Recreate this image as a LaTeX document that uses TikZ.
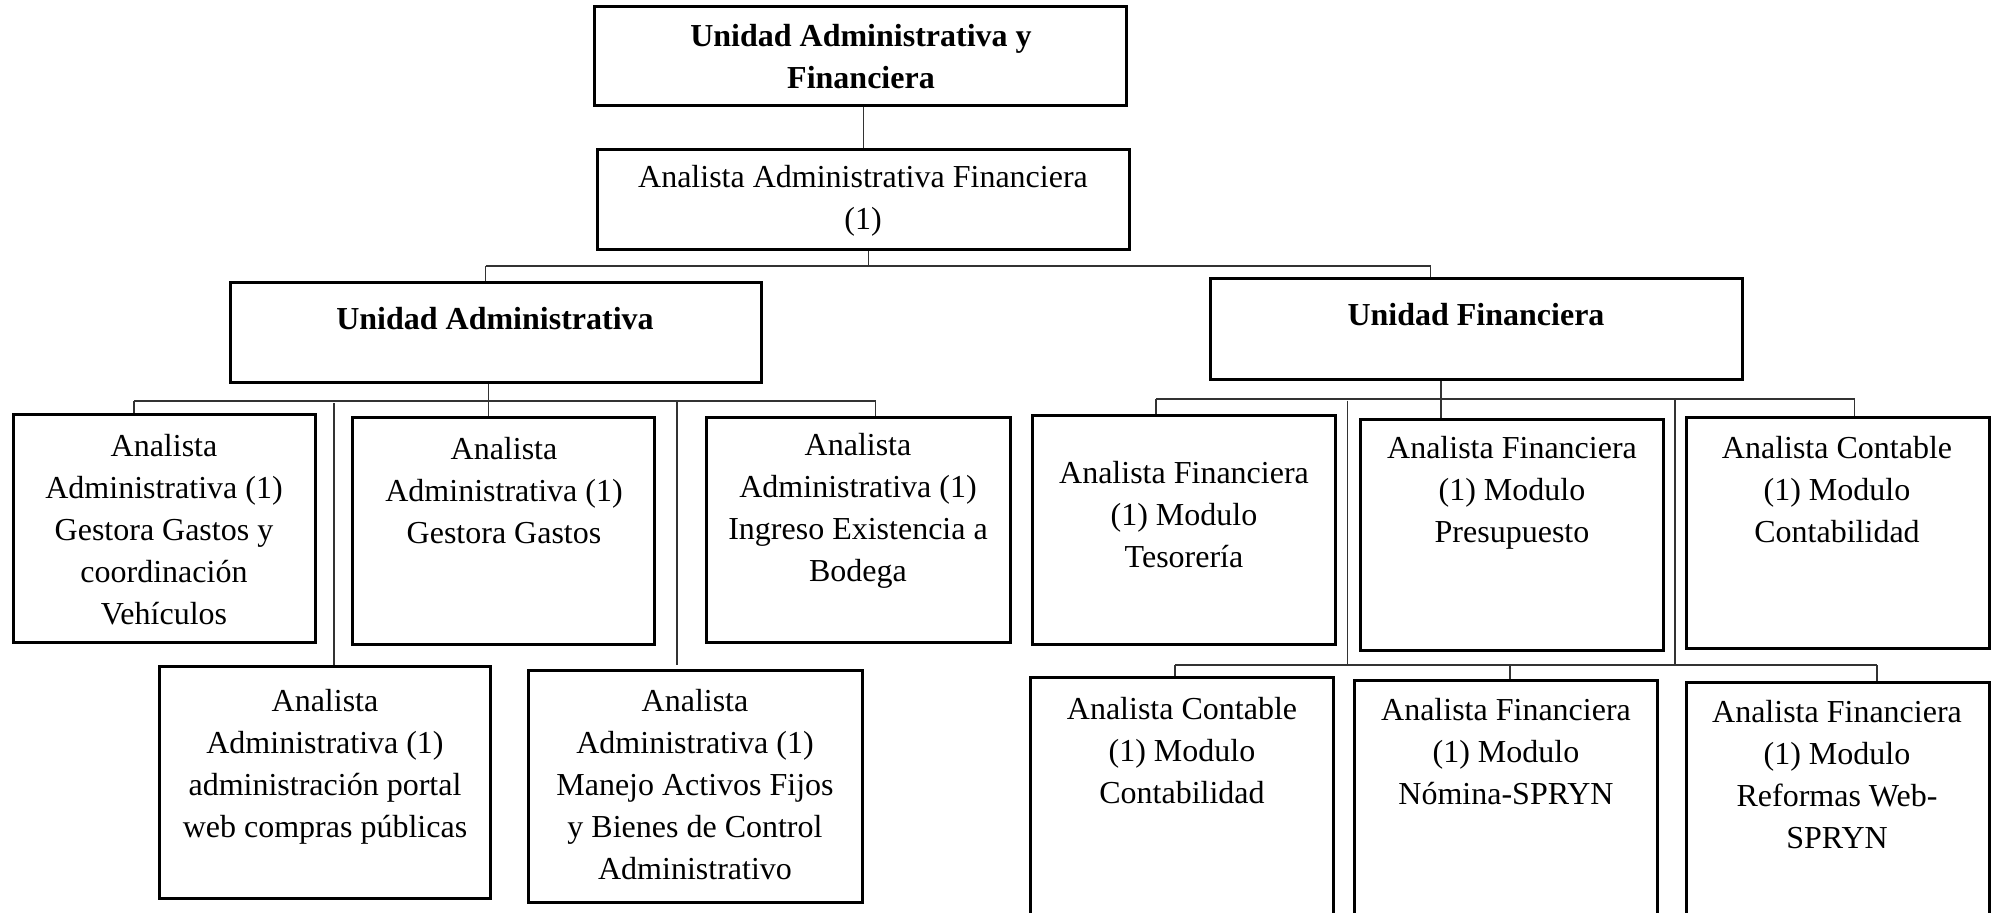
\documentclass[tikz,border=0pt]{standalone}
\usepackage{fontspec}
\setmainfont{Liberation Serif}
\usetikzlibrary{fit}
\begin{document}
\begin{tikzpicture}[x=0.5pt,y=-0.5pt,
  box/.style={draw=black,line width=1.5pt,fill=white,inner sep=0pt},
  txt/.style={align=center,inner sep=0pt,font=\fontsize{16}{21}\selectfont},
  head/.style={txt,font=\fontsize{16}{21}\selectfont\bfseries},
  link/.style={draw=black!80,line width=0.65pt}]
\useasboundingbox (0,0) rectangle (2000,912);
\clip (0,0) rectangle (2000,912);

% boxes
\node[box,fit={(594,6) (1126,105)}] (top) {};
\node[box,fit={(597,149) (1129,249)}] (an) {};
\node[box,fit={(230,282) (761,382)}] (ua) {};
\node[box,fit={(1210,278) (1742,379)}] (uf) {};
\node[box,fit={(13,414) (315,642)}] (l1) {};
\node[box,fit={(352,417) (654,644)}] (l2) {};
\node[box,fit={(706,417) (1010,642)}] (l3) {};
\node[box,fit={(159,666) (490,898)}] (l4) {};
\node[box,fit={(528,670) (862,902)}] (l5) {};
\node[box,fit={(1032,415) (1335,644)}] (r1) {};
\node[box,fit={(1360,419) (1663,650)}] (r2) {};
\node[box,fit={(1686,417) (1989,648)}] (r3) {};
\node[box,fit={(1030,677) (1333,940)}] (r4) {};
\node[box,fit={(1354,680) (1657,940)}] (r5) {};
\node[box,fit={(1686,682) (1989,940)}] (r6) {};

% texts
\node[head] (topt) at (861,57) {Unidad Administrativa y\\Financiera};
\node[txt] (ant) at (863,201) {Analista Administrativa Financiera\\(1)};
\node[head] (uat) at (495,319) {Unidad Administrativa};
\node[head] (uft) at (1476,315) {Unidad Financiera};
\node[txt] (l1t) at (164,530) {Analista\\Administrativa (1)\\Gestora Gastos y\\coordinación\\Vehículos};
\node[txt] (l2t) at (504,491) {Analista\\Administrativa (1)\\Gestora Gastos};
\node[txt] (l3t) at (858,511) {Analista\\Administrativa (1)\\Ingreso Existencia a\\Bodega};
\node[txt] (l4t) at (325,767) {Analista\\Administrativa (1)\\administración portal\\web compras públicas};
\node[txt] (l5t) at (695,785) {Analista\\Administrativa (1)\\Manejo Activos Fijos\\y Bienes de Control\\Administrativo};
\node[txt] (r1t) at (1184,515) {Analista Financiera\\(1) Modulo\\Tesorería};
\node[txt] (r2t) at (1512,493) {Analista Financiera\\(1) Modulo\\Presupuesto};
\node[txt] (r3t) at (1837,490) {Analista Contable\\(1) Modulo\\Contabilidad};
\node[txt] (r4t) at (1182,751) {Analista Contable\\(1) Modulo\\Contabilidad};
\node[txt] (r5t) at (1506,752) {Analista Financiera\\(1) Modulo\\Nómina-SPRYN};
\node[txt] (r6t) at (1837,775) {Analista Financiera\\(1) Modulo\\Reformas Web-\\SPRYN};

% bus points
\coordinate (b0) at (868.6,266);
\coordinate (b1) at (485.6,266);
\coordinate (b2) at (1430.5,266);
\coordinate (a0) at (488.5,401);
\coordinate (a1) at (134,401);
\coordinate (a3) at (875.6,401);
\coordinate (a4) at (334,403);
\coordinate (a5) at (677,401);
\coordinate (c0) at (1441,399);
\coordinate (c1) at (1156,399);
\coordinate (c3) at (1854.6,399);
\coordinate (c4) at (1347.6,400.7);
\coordinate (c5) at (1675,400);
\coordinate (d1) at (1175,665);
\coordinate (d2) at (1510,665);
\coordinate (d3) at (1877,665);

% connectors
\draw[link] (top.south -| 863.5,0) -- (863.5,0 |- an.north);
\draw[link] (an.south -| b0) -- (b0);
\draw[link] (b1) -- (b2);
\draw[link] (b1) -- (b1 |- ua.north);
\draw[link] (b2) -- (b2 |- uf.north);

\draw[link] (ua.south -| a0) -- (a0 |- l2.north);
\draw[link] (a1) -- (a3);
\draw[link] (a1) -- (a1 |- l1.north);
\draw[link] (a3) -- (a3 |- l3.north);
\draw[link] (a4) -- (a4 |- l4.north);
\draw[link] (a5) -- (a5 |- l4.north);

\draw[link] (uf.south -| c0) -- (c0 |- r2.north);
\draw[link] (c1) -- (c3);
\draw[link] (c1) -- (c1 |- r1.north);
\draw[link] (c3) -- (c3 |- r3.north);
\draw[link] (c4) -- (c4 |- d1);
\draw[link] (c5) -- (c5 |- d1);
\draw[link] (d1) -- (d3);
\draw[link] (d1) -- (d1 |- r4.north);
\draw[link] (d2) -- (d2 |- r5.north);
\draw[link] (d3) -- (d3 |- r6.north);
\end{tikzpicture}
\end{document}
